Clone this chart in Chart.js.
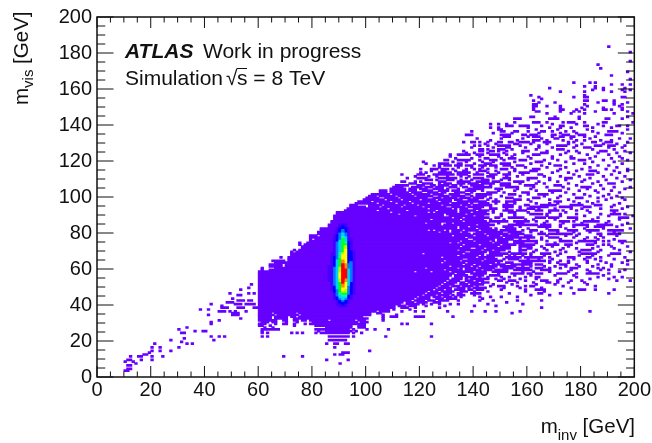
<!DOCTYPE html>
<html>
<head>
<meta charset="utf-8">
<title>mvis vs minv</title>
<script src="https://cdn.jsdelivr.net/npm/chart.js@4"></script>
<style>
  html, body { margin: 0; padding: 0; background: #fff; }
  #wrap { width: 652px; height: 443px; position: relative; }
</style>
</head>
<body>
<div id="wrap"><canvas id="myChart"></canvas></div>
<script>
// axis ticks in GeV
const majorTicks = [0, 20, 40, 60, 80, 100, 120, 140, 160, 180, 200];
const minorTicks = [5, 10, 15, 25, 30, 35, 45, 50, 55, 65, 70, 75, 85, 90, 95, 105, 110, 115, 125, 130, 135, 145, 150, 155, 165, 170, 175, 185, 190, 195];

// filled (lowest colour) bins: [mvis bin, "minv bin runs"]
const lowCells = [
  [3, "10-11"], [4, "11-12"], [6, "11-12"], [7, "14 90"], [8, "10 13"],
  [9, "11-12 16 20 85 93"], [11, "12 15-16 20 24 69 76"], [12, "17-18 88 90-91"],
  [13, "19 91-93"], [14, "20 23 27 101"], [16, "20 23 30 88"],
  [18, "21 33 35 85 88-89 92-93"], [19, "31"], [20, "27 43 86-92"], [21, "32"],
  [22, "42 45 47 61 63 86-93 95 107 124"], [24, "31-32 61 63 72 74 76 81 83-93 95 98"],
  [25, "36 39-40 61 82 85-94 96"], [26, "30 61-67 81-93 95 100 103 108"], [27, "33 62 65 85-94 97-99"],
  [28, "60-61 64 73 81-94 97-99"], [29, "42 60-62 66 69-70 73 77 79-94 95-99 113 115 124"],
  [30, "42 61-63 65-66 70 74 80-96 98-100"], [31, "45 60-62 63-66 69-70 73-74 76-77 79-85 87-95 97-99 106"],
  [32, "53 60-64 66-70 73-78 79-96 97-100 106"],
  [33, "60-64 66-70 72-73 75-78 79-98 106 109-111 118-121 132"],
  [34, "41 50-52 60-65 67-69 70-74 76-78 79-99 100-101 106 111"],
  [35, "50-52 60-64 66-73 75-101 104-105 154"],
  [36, "45-47 49 51 55 60-103 105-108 113 118 121 130 139 144 148 157 183"],
  [37, "38 41 60-108 110 116"],
  [38, "46-48 52-54 58-59 60-110 113-115 118 127 165"],
  [39, "46 60-110 112-114 116-118 122 129 140 148"],
  [40, "42 51-53 55-58 60-112 115-119 121 124 127 131 134 145 158"],
  [41, "48-50 60-113 115-117 119-122 125-127 152"],
  [42, "52-54 56-57 60-116 118-121 123-125 127-130 134 142 147 156 165"],
  [43, "50 60-117 119-123 126-128 130-133 143"],
  [44, "60-118 120-123 125-127 129-131 133 135 142 146 150 156"],
  [45, "52-53 60-120 122-125 127-130 132 134-136 140 161 168"],
  [46, "49 56 58 60-121 123-127 129-131 134-135 139-141 142 153 164-165 172 177 190"],
  [47, "60-122 124-126 128-132 135-137 140 145 159 166"],
  [48, "53 60-124 126-128 130-131 133-136 138-139 141-143 150 159 163-166 179-181 185 192"],
  [49, "56 60-125 127-131 134-136 138 140-144 151 157 165 176"],
  [50, "60-126 128-130 132-134 136-139 141 146 149-151 156 159 161-162 173 185"],
  [51, "57 60-127 129-132 135-137 139-143 147 154 163 170 182"],
  [52, "60-128 130-133 135-136 138-141 143-145 152 156 162 167-168 171 175 181"],
  [53, "60-129 131-134 137-139 141-143 149-150 153-155 159 165-167 171 176 180 193 198"],
  [54, "60-130 132-135 137 139-145 148 151 157 163 172 183 190"],
  [55, "60-130 133-135 137-140 142 145 150 153 159 163-164 178 186 192 195"],
  [56, "60-131 133-137 140-143 146-149 155 161 170 177 188"],
  [57, "60-132 134-136 139-142 143-144 149 154-158 160-161 163-165 171-174 178 182-186 190"],
  [58, "60-87 90-117 119-123 125-130 132-139 141-144 147-152 158 162 168 175 183 194"],
  [59, "61 64-128 130-135 137-142 144-146 148-152 155-161 165-168 176 182 187 190 196"],
  [60, "61 66-121 123-133 135 137-140 142-147 151-154 156-160 163-165 168 172 176-178 186 188"],
  [61, "64-68 70-130 132-138 140-141 143-148 150-155 158 161 166 170 174 179 184 191"],
  [62, "64-68 70-135 137-139 141-145 147-151 154-161 163-165 172-174 178 186 191 197"],
  [63, "66-127 129-136 138-147 149 152-154 158-161 168 171 175 182 189 195"],
  [64, "65-69 71-128 130-134 136-142 144-150 157-161 162-166 168 172 175 182 187 197"],
  [65, "71-135 138-143 145-148 151 153-156 160 164 169 177 181 185 192"],
  [66, "68 71-127 129-140 142-147 152-157 159-162 163-165 168 175-177 182-183 187 196"],
  [67, "72-133 135-141 143 145-150 153 155 158 161 166 171 179 184 190"],
  [68, "72-120 122-135 137-143 146-152 154-159 161 165-168 172 180-185 191-194"],
  [69, "72 74-136 139-144 146-149 153 157 162 170 174 179 186 198"],
  [70, "73 75-133 135-142 144-146 148-151 157-159 163 167 172 180-183 187 194"],
  [71, "76-138 141-143 145-153 157 160-161 166 173 178 184 192"],
  [72, "76-134 136-148 150-153 157-161 165 169 175 186 191 197"],
  [73, "75 77-135 137-141 143-149 151-155 157-162 167-171 174-176 182-184 188 190"],
  [74, "75 78-130 132-133 135-146 148-152 155-158 163 170 178 185 195"],
  [75, "79-134 136-139 141-145 147 149-152 155-163 167 172-176 179-185 188 190 194-196"],
  [76, "79 81-137 140-147 149-154 157 160 165 172 181 186 192"],
  [77, "79-81 82-136 138-150 152-162 165 168-171 177 182 185 188"],
  [78, "79-81 83-131 133-139 141-144 146-149 151-156 159-161 167 174 178 187 193"],
  [79, "82-138 140-143 145-152 154-158 164-166 168-176 179 186-187 190-194"],
  [80, "82-126 128-130 132-134 136-137 141-150 153-157 161 165 171 177 183 192"],
  [81, "83-122 124 126-128 130 132-135 137-141 143-148 150-155 158 161-163 168-171 175-178 182-186 190-195"],
  [82, "83-85 86-133 135-140 142-146 148 152-155 160 167 174 181 188 198"],
  [83, "86-133 135-137 139-145 151-154 157 164-168 172 177 182 185-188 193"],
  [84, "86-127 129-140 142-147 153-163 165-168 172 177-182 186-191 195"],
  [85, "87-121 123-127 130-131 133-145 149 156-158 166 173 180 189 197"],
  [86, "87-135 137-144 146-152 155-160 163 167 172-175 177 181-186 190"],
  [87, "88-123 125-134 136-142 143 146 151 159 162 170 178 184 194"],
  [88, "88-131 133-135 137-145 148-149 153-158 163-166 168-171 175-178 186 194-197"],
  [89, "88-117 119-128 131-139 141-143 150 155 167 172 181 190 199"],
  [90, "89-111 113-128 130-136 138-145 150 155 161-165 167 172 178 187 191-194 196"],
  [91, "89-108 110-122 124 126-133 135-138 140-144 147 153-155 160 168 174 183 192"],
  [92, "92-103 105-114 116-125 127-133 135-140 142-145 147 151-154 156-159 163-165 168-171 173 178 182 191-193"],
  [93, "93-107 109-122 124-131 133 135-137 140-142 146-148 152 157 160-162 164 170 176 180 187 195"],
  [94, "94-99 101-104 106-112 114-120 122-129 132-136 138-143 146 151-154 157 161-167 172-176 181-183 191 197"],
  [95, "94-96 101-105 107-113 115-118 120-127 129-134 136-138 140-146 151-154 159-160 165-170 176-180 185-187 192"],
  [96, "96-103 105-110 112-116 118-122 124-130 132-137 139 142-145 148 152 155 163 168 171 179 184 194"],
  [97, "97-101 103-108 110-115 117-126 128-131 134-138 139-144 147-149 152-155 161 170-172 177 182 186"],
  [98, "99-106 108-112 114-119 121-125 127-131 133-135 138-141 145 148 155-157 160 168 175 189 196"],
  [99, "100-104 107-111 113-122 125-127 129-133 135-138 140-143 146 152-154 162-164 171 178-180 186 191 195"],
  [100, "101-103 105-110 112-117 119-124 127-130 132-136 139 141-144 150 157 166 172 183 188 193"],
  [101, "102-108 110-116 118-123 125-128 131-134 137-138 141-146 153-155 160 164-167 177 181 190"],
  [102, "105-107 109-115 117-120 123-126 128-129 133-136 139 145-148 151 158-160 169 174 186 194"],
  [103, "105-107 109-114 116-118 121-124 127-130 132-134 137-140 143 149 155 163 168-172 179 185 191"],
  [104, "109-114 116-118 120-122 125-128 130 134 138-143 148-150 156 161 175 182 188 196"],
  [105, "110-113 117-120 122-124 126-128 131-133 136-137 140-146 152-156 162 167 173 180-183 192 198"],
  [106, "111-115 119-121 124-125 127-130 132-133 135 139-143 146 150-153 159-162 170-172 178 187"],
  [107, "116-118 121-124 127 129-131 134-136 138-141 143-147 150-153 157 163 166 175 184 190-192"],
  [108, "113-114 118 120 127-129 134-138 141-145 147-149 155-158 164 171 180 186 195"],
  [109, "122-124 126 130-132 135 139 143-145 150 153 160 168 174 181 189 198"],
  [110, "115 119-122 127-133 137 140-143 147 151-153 160-163 168 174-176 183 193"],
  [111, "118 123 126 130 135 138 145-147 152 156 166 172 179 188 196"],
  [112, "113 119-121 125-132 134-137 140-143 146-148 151-153 158 164-165 177 182-184 191"],
  [113, "120 122 127-131 134-138 141 145 149 153 157-160 169 175 186 194"],
  [114, "124 128-129 133 136-137 142-144 148 155 161-163 171 178 183-185 192 197"],
  [115, "120 124-126 128-130 132 137 140 142 145 150-152 155 162-164 172 180 189 197"],
  [116, "127 134 139 143 148 154 159 167 174 183 193"],
  [117, "125 127 129-131 133-135 137-139 142-144 146-148 151-153 156-158 165 170-172 186 190"],
  [118, "122 127-130 134-135 140 144-146 150-153 161 168 177 181 195"],
  [119, "121 132 137 143 147 155 163-165 174 184 192"],
  [120, "129-130 134-138 142 146-148 151 157-159 166 171 179-181 188 197"],
  [121, "133 139 144-145 150 153-155 161 169 176-177 183 191 195"],
  [122, "131 142 149 154 160 169 176 185 194"],
  [123, "131 134-138 141-143 146-149 152 155 162-164 172 182 190"],
  [124, "137 140 145 151 158 165-167 174 179 186 193 198"],
  [125, "136 142-143 146-147 149 152 158-160 167 175 178 187-189 196"],
  [126, "142-143 145 149-151 154 163 171-173 184 192"],
  [127, "139 147 152-153 159 164 169 177 181-183 190 195"],
  [128, "140 142 145 149-153 157 164 171-174 178 185-187 190-192 196"],
  [129, "144 148 155-156 161 167 175 180 188 193"],
  [130, "136 139-140 142 145 149-150 153-154 157-160 162 166-168 175 177 184-185 189-191 197"],
  [131, "146 156 162-164 167 173 178 181 187 191"],
  [132, "141 150 158 165 170-171 176 183 194 198"],
  [133, "151-153 160 162-164 169 172-173 176-177 181 185"],
  [134, "137-139 150-153 158-159 161-163 169-170 173-175 179-181 189-191"],
  [135, "147 154 164 172 178 186 195"],
  [136, "139 150-151 155-156 160 165-166 169 174 177 184 190-193"],
  [137, "149-150 163 171 182 197"],
  [138, "146 149 160 168 172 176 184 191"],
  [139, "152-154 157-160 165 172-173 181-182 188 193-194 197"],
  [140, "146 149 152 169 178 186"],
  [141, "155 162-164 167 173 175-177 181 188-189 199"],
  [143, "155-157 168-171 179 189-190 195"],
  [144, "161-162 170 179 197"],
  [146, "167 176 181 192 199"],
  [147, "163-164 172 177 179 185 197"],
  [148, "162 172-173 178 181 188-189 191 195"],
  [149, "162 172 180 188 195"],
  [150, "162-163 167 172 182 194"],
  [151, "162-163 181 192 195"],
  [152, "164 170 186 192 197"],
  [153, "162 181-182 188-189 192"],
  [154, "165"],
  [155, "164 177 181-182 195-196"],
  [156, "161 181"],
  [158, "172 181 191 196"],
  [159, "184 188 195 198"],
  [160, "168 185 188 196"],
  [161, "181 185"],
  [162, "191 195 198"],
  [163, "177 183 185"],
  [165, "198"], [167, "191"], [169, "197"], [171, "187"], [173, "186"],
  [175, "198"], [180, "198"], [183, "190"]
];

// the peak: colour level per bin, first character is minv bin coreFirstBin
const coreFirstBin = 85;
const coreMvisBins = [84, 83, 82, 81, 80, 79, 78, 77, 76, 75, 74, 73, 72, 71, 70, 69, 68, 67, 66, 65, 64, 63, 62, 61, 60, 59, 58, 57, 56, 55, 54, 53, 52, 51, 50, 49, 48, 47, 46, 45, 44, 43, 42, 41, 40, 39];
const coreLevels = [
  "000001110000", "000001210000", "000012221000", "000012321000", "000012321000", "000013431000",
  "000123431000", "000123541000", "000123641100", "000124641100", "000134652100", "000134662100",
  "000134672100", "000134672100", "000134682100", "000134682210", "001135782210", "001135882210",
  "001235882210", "001236882210", "001246982210", "001246982310", "001246a93310", "011246a93310",
  "011347a93310", "011347aa4310", "011347aa4310", "011348aa4310", "011348aa4310", "011348aa4310",
  "011347a94310", "011347a94310", "001346a84210", "001346984210", "001246983210", "001246883210",
  "001236873210", "000236773210", "000135663210", "000134552100", "000124442100", "000123431100",
  "000012321000", "000012221000", "000011210000", "000001110000"
];
const levelColours = ["#6600ff", "#4400ff", "#0000ff", "#0078ff", "#00d0ff", "#00ffb4", "#00ff28", "#aaff00", "#ffff00", "#ff8c00", "#ff0000"];

function lowBars() {
  const bars = [];
  lowCells.forEach(([row, runs]) => {
    runs.split(" ").forEach((run) => {
      const [a, b] = run.split("-").map(Number);
      bars.push({ y: row + 0.5, x: [a, (b === undefined ? a : b) + 1] });
    });
  });
  return bars;
}

function coreBars(level) {
  const bars = [];
  coreLevels.forEach((line, i) => {
    [...line].forEach((ch, j) => {
      if (parseInt(ch, 16) === level) {
        bars.push({ y: coreMvisBins[i] + 0.5, x: [coreFirstBin + j, coreFirstBin + j + 1] });
      }
    });
  });
  return bars;
}

const datasets = [];
for (let level = levelColours.length - 1; level > 0; level--) {
  datasets.push({ data: coreBars(level), backgroundColor: levelColours[level] });
}
datasets.push({ data: lowBars(), backgroundColor: levelColours[0] });

// ROOT style frame with ticks inside on all four sides, plus the texts
const rootFrame = {
  id: "rootFrame",
  afterDatasetsDraw(chart) {
    const { ctx, chartArea: area, scales } = chart;
    const tick = (value, len) => {
      const px = scales.x.getPixelForValue(value);
      const py = scales.y.getPixelForValue(value);
      ctx.moveTo(px, area.bottom); ctx.lineTo(px, area.bottom - len);
      ctx.moveTo(px, area.top); ctx.lineTo(px, area.top + len);
      ctx.moveTo(area.left, py); ctx.lineTo(area.left + len * 1.5, py);
      ctx.moveTo(area.right, py); ctx.lineTo(area.right - len * 1.5, py);
    };
    ctx.save();
    ctx.strokeStyle = "#111";
    ctx.lineWidth = 1;
    ctx.beginPath();
    majorTicks.forEach((v) => tick(v, 11));
    minorTicks.forEach((v) => tick(v, 5.5));
    ctx.stroke();
    ctx.lineWidth = 1.5;
    ctx.strokeRect(area.left, area.top, area.width, area.height);

    ctx.fillStyle = "#111";
    ctx.textBaseline = "alphabetic";
    ctx.textAlign = "left";
    ctx.font = "italic bold 21px 'Liberation Sans'";
    ctx.fillText("ATLAS", 125, 58);
    ctx.font = "21px 'Liberation Sans'";
    ctx.fillText("Work in progress", 203, 58);
    ctx.fillText("Simulation", 125, 85);
    ctx.fillText("\u221A", 226, 85);
    ctx.fillText("s = 8 TeV", 237, 85);
    ctx.fillRect(237, 68, 10, 1);

    // x title, right aligned to the frame
    ctx.font = "20.5px 'Liberation Sans'";
    const right = ctx.measureText(" [GeV]").width;
    ctx.fillText(" [GeV]", 635 - right, 433);
    ctx.font = "15px 'Liberation Sans'";
    const sub = ctx.measureText("inv").width;
    ctx.fillText("inv", 635 - right - sub, 440);
    ctx.font = "20.5px 'Liberation Sans'";
    ctx.fillText("m", 635 - right - sub - ctx.measureText("m").width, 433);

    // y title, rotated
    ctx.translate(28, 105);
    ctx.rotate(-Math.PI / 2);
    ctx.fillText("m", 0, 0);
    const mw = ctx.measureText("m").width;
    ctx.font = "15px 'Liberation Sans'";
    ctx.fillText("vis", mw, 5);
    const vw = ctx.measureText("vis").width;
    ctx.font = "20.5px 'Liberation Sans'";
    ctx.fillText(" [GeV]", mw + vw, 0);
    ctx.restore();
  }
};

new Chart(document.getElementById("myChart"), {
  type: "bar",
  data: { datasets },
  options: {
    indexAxis: "y",
    responsive: true,
    maintainAspectRatio: false,
    animation: false,
    events: [],
    datasets: { bar: { grouped: false, barThickness: 2, borderWidth: 0, borderSkipped: false } },
    layout: { padding: { top: 13, right: 17, left: 0, bottom: 0 } },
    plugins: { legend: { display: false }, tooltip: { enabled: false }, title: { display: false } },
    scales: {
      x: {
        type: "linear",
        min: 0,
        max: 200,
        grid: { display: false, drawTicks: false },
        border: { display: false },
        afterFit(scale) { scale.height = 66; },
        ticks: {
          stepSize: 20,
          autoSkip: false,
          maxRotation: 0,
          padding: 1,
          color: "#111",
          font: { family: "'Liberation Sans'", size: 20 }
        }
      },
      y: {
        type: "linear",
        min: 0,
        max: 200,
        offset: false,
        grid: { display: false, drawTicks: false, offset: false },
        border: { display: false },
        afterFit(scale) { scale.width = 97; },
        ticks: {
          stepSize: 20,
          autoSkip: false,
          padding: 5,
          color: "#111",
          font: { family: "'Liberation Sans'", size: 20 }
        }
      }
    }
  },
  plugins: [rootFrame]
});
</script>
</body>
</html>
